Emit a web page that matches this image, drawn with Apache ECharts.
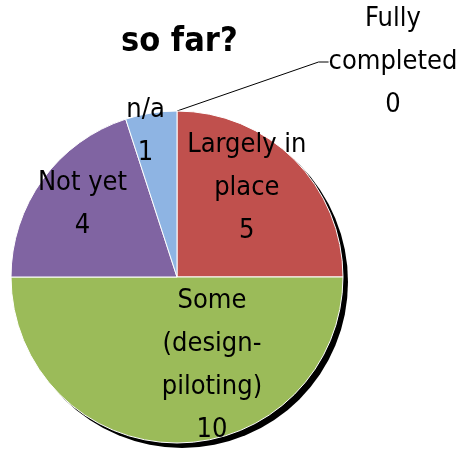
<!DOCTYPE html>
<html>
<head>
<meta charset="utf-8">
<script src="https://cdn.jsdelivr.net/npm/echarts@6/dist/echarts.min.js"></script>
<style>
  html, body { margin: 0; padding: 0; background: #fff; }
  #figure { width: 465px; height: 451px; }
</style>
</head>
<body>
<div id="figure"></div>
<script>
    // data
    var categories = ['Fully\ncompleted', 'Largely in\nplace', 'Some\n(design-\npiloting)', 'Not yet', 'n/a'];
    var counts = [0, 5, 10, 4, 1];
    var sliceColors = ['#4F81BD', '#C0504D', '#9BBB59', '#8064A2', '#8EB4E3'];

    // label nudges (px) from the default inside spot, per slice
    var labelShift = [[0, 0], [9, -28], [35, 2], [-25, -22], [-18, -61]];

    var font = '"Liberation Sans Narrow", "DejaVu Sans Condensed", "Noto Sans CJK JP", sans-serif';

    var pieData = [];
    for (var i = 0; i < categories.length; i++) {
        pieData.push({
            name: categories[i],
            value: counts[i],
            itemStyle: { color: sliceColors[i] },
            label: i === 0 ? { position: 'outside' } : { position: 'inside' },
            labelLine: { show: i === 0 }
        });
    }

    var figure = echarts.init(document.getElementById('figure'));
    var option = {
        animation: false,
        title: {
            text: 'so far?',
            left: 116,
            top: 20,
            textStyle: {
                fontFamily: font,
                fontSize: 34,
                fontWeight: 'bold',
                color: '#000'
            }
        },
        series: [{
            // drop shadow disc
            type: 'pie',
            silent: true,
            z: 1,
            center: [182, 282],
            radius: 166,
            label: { show: false },
            labelLine: { show: false },
            itemStyle: { color: '#000' },
            data: [{ value: 1 }]
        }, {
            type: 'pie',
            z: 2,
            center: [177, 277],
            radius: 166,
            startAngle: 90,
            clockwise: true,
            avoidLabelOverlap: false,
            itemStyle: {
                borderColor: '#fff',
                borderWidth: 1
            },
            label: {
                show: true,
                color: '#000',
                fontFamily: font,
                fontSize: 27,
                lineHeight: 43,
                align: 'center',
                formatter: function (p) {
                    return p.name + '\n' + p.value;
                }
            },
            labelLine: {
                show: true,
                length: 20,
                length2: 10,
                lineStyle: { color: '#000', width: 1 }
            },
            labelLayout: function (p) {
                if (p.dataIndex === 0) {
                    return { x: 393, y: 62, align: 'center', verticalAlign: 'middle' };
                }
                var s = labelShift[p.dataIndex];
                return { dx: s[0], dy: s[1] };
            },
            data: pieData
        }]
    };

    figure.setOption(option);
</script>
</body>
</html>
